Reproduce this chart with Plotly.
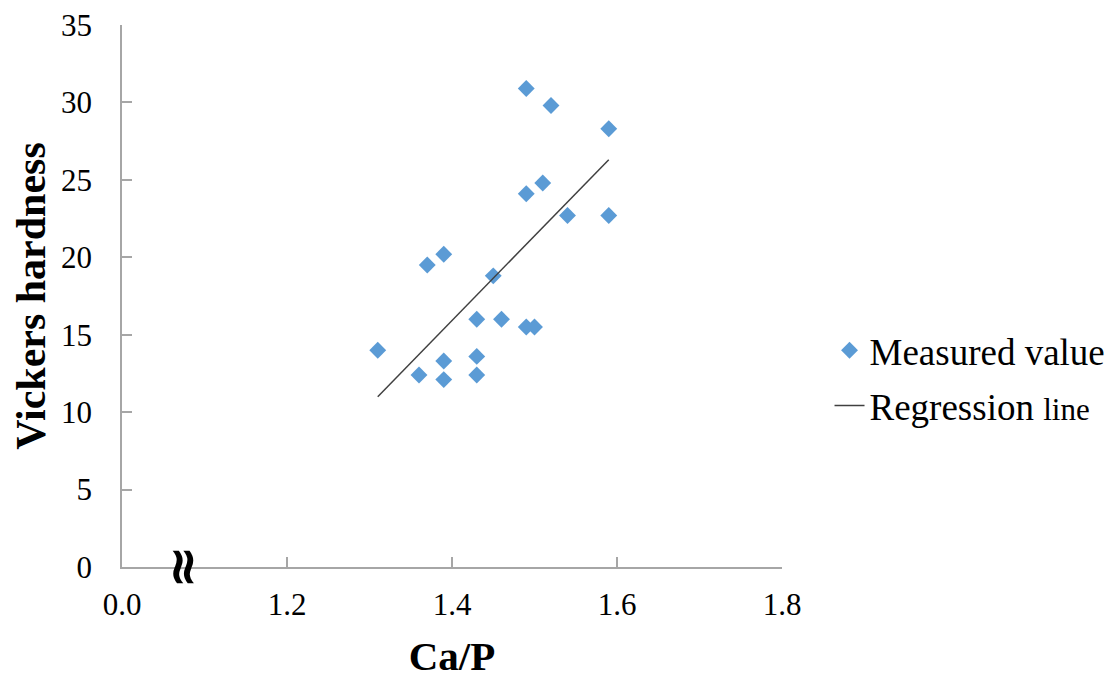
import plotly.graph_objects as go

# Measured values (Ca/P ratio vs Vickers hardness)
ca_p = [1.49, 1.52, 1.59, 1.51, 1.49, 1.54, 1.59, 1.39, 1.37, 1.45,
        1.43, 1.46, 1.49, 1.50, 1.31, 1.39, 1.43, 1.36, 1.39, 1.43]
hardness = [30.9, 29.8, 28.3, 24.8, 24.1, 22.7, 22.7, 20.2, 19.5, 18.8,
            16.0, 16.0, 15.5, 15.5, 14.0, 13.3, 13.6, 12.4, 12.1, 12.4]

# Regression line end points
reg_x = [1.31, 1.59]
reg_y = [11.0, 26.3]

# Axis ticks (x axis is broken: first tick labelled 0.0)
x_tickvals = [1.0, 1.2, 1.4, 1.6, 1.8]
x_ticktext = ["0.0", "1.2", "1.4", "1.6", "1.8"]
y_tickvals = [0, 5, 10, 15, 20, 25, 30, 35]

serif = "Liberation Serif"
axis_gray = "#A6A6A6"

fig = go.Figure()
fig.add_trace(go.Scatter(
    x=ca_p, y=hardness, mode="markers", name="Measured value",
    marker=dict(symbol="diamond", size=13, color="#5B9BD5"),
    legend="legend", showlegend=True,
))
fig.add_trace(go.Scatter(
    x=reg_x, y=reg_y, mode="lines",
    name="Regression <span style='font-size:31px'>line</span>",
    line=dict(color="#404040", width=1.5),
    legend="legend2", showlegend=True,
))

fig.update_layout(
    width=1111, height=671,
    margin=dict(l=114, r=337, t=17, b=112, autoexpand=False),
    paper_bgcolor="white", plot_bgcolor="white",
    font=dict(family=serif, color="black"),
    showlegend=True,
    legend=dict(x=1.072, y=0.399, xanchor="left", yanchor="middle",
                font=dict(size=37, family=serif), bgcolor="rgba(0,0,0,0)"),
    legend2=dict(x=1.072, y=0.297, xanchor="left", yanchor="middle",
                 font=dict(size=37, family=serif), bgcolor="rgba(0,0,0,0)"),
    xaxis=dict(
        range=[1.0, 1.8], tickvals=x_tickvals, ticktext=x_ticktext,
        showgrid=False, zeroline=False, showline=True, linecolor=axis_gray,
        linewidth=1.5, ticks="inside", ticklen=10, tickcolor=axis_gray,
        tickwidth=1.5, tickfont=dict(size=31, family=serif),
        ticklabelstandoff=9, automargin=False, ticklabeloverflow="allow",
        title=dict(text="<b>Ca/P</b>", font=dict(size=41, family=serif),
                   standoff=27),
    ),
    yaxis=dict(
        range=[0, 35], tickvals=y_tickvals,
        showgrid=False, zeroline=False, showline=True, linecolor=axis_gray,
        linewidth=1.5, ticks="inside", ticklen=10, tickcolor=axis_gray,
        tickwidth=1.5, tickfont=dict(size=31, family=serif),
        ticklabelstandoff=22, automargin=False, ticklabeloverflow="allow",
        title=dict(text="<b>Vickers hardness</b>", font=dict(size=42, family=serif),
                   standoff=2),
    ),
)

# Axis break mark
fig.add_annotation(
    x=1.076, y=0, xref="x", yref="y", text="<b>≈</b>", textangle=90,
    showarrow=False, font=dict(size=52, family="DejaVu Sans", color="black"),
)

fig.write_html("out.html")
